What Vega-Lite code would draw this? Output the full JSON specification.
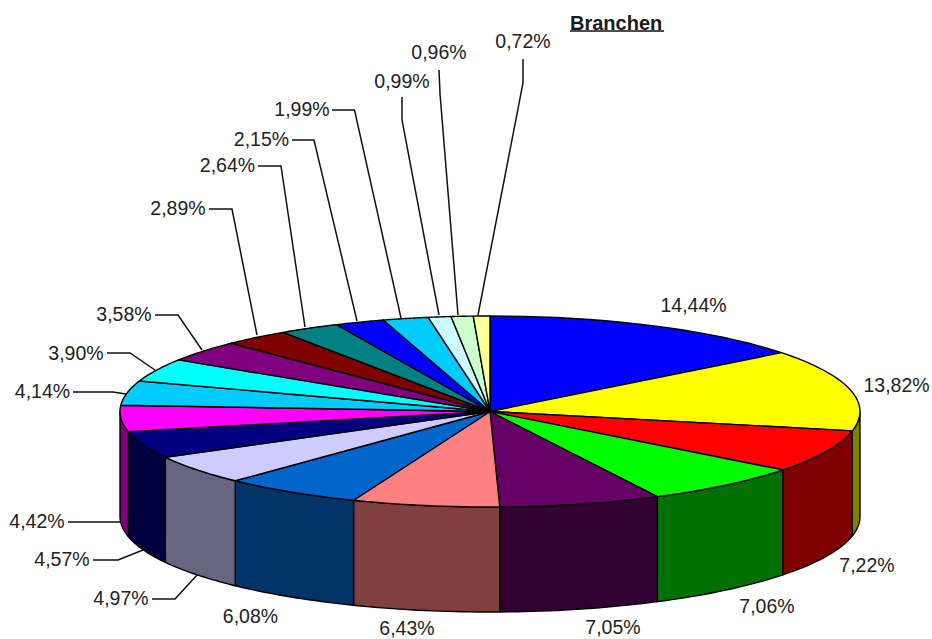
{"$schema":"https://vega.github.io/schema/vega-lite/v6.json","width":932,"height":639,"padding":0,"autosize":"none","background":"white","view":{"stroke":null},"title":{"text":"Branchen","anchor":"start","frame":"group","dx":570,"dy":50,"offset":0,"baseline":"alphabetic","font":"Liberation Sans","fontSize":20,"fontWeight":"bold","color":"#1a1a1a"},"datasets":{"slices":[{"label":"14,44%","share":14.44,"rank":1},{"label":"13,82%","share":13.82,"rank":2},{"label":"7,22%","share":7.22,"rank":3},{"label":"7,06%","share":7.06,"rank":4},{"label":"7,05%","share":7.05,"rank":5},{"label":"6,43%","share":6.43,"rank":6},{"label":"6,08%","share":6.08,"rank":7},{"label":"4,97%","share":4.97,"rank":8},{"label":"4,57%","share":4.57,"rank":9},{"label":"4,42%","share":4.42,"rank":10},{"label":"4,14%","share":4.14,"rank":11},{"label":"3,90%","share":3.9,"rank":12},{"label":"3,58%","share":3.58,"rank":13},{"label":"2,89%","share":2.89,"rank":14},{"label":"2,64%","share":2.64,"rank":15},{"label":"2,15%","share":2.15,"rank":16},{"label":"1,99%","share":1.99,"rank":17},{"label":"0,99%","share":0.99,"rank":18},{"label":"0,96%","share":0.96,"rank":19},{"label":"0,72%","share":0.72,"rank":20}],"labels":[{"label":"14,44%","x":203.5,"y":105.5},{"label":"13,82%","x":406.5,"y":25.5},{"label":"7,22%","x":377,"y":-154.5},{"label":"7,06%","x":277,"y":-195.5},{"label":"7,05%","x":123,"y":-216.5},{"label":"6,43%","x":-83,"y":-217},{"label":"6,08%","x":-239.5,"y":-205.5},{"label":"4,97%","x":-369,"y":-187.5},{"label":"4,57%","x":-428,"y":-148.5},{"label":"4,42%","x":-453,"y":-110.5},{"label":"4,14%","x":-447.5,"y":19.5},{"label":"3,90%","x":-414,"y":57.5},{"label":"3,58%","x":-366,"y":96.5},{"label":"2,89%","x":-312,"y":202.5},{"label":"2,64%","x":-262.5,"y":245.5},{"label":"2,15%","x":-228.5,"y":271.5},{"label":"1,99%","x":-188,"y":301.5},{"label":"0,99%","x":-88,"y":329.5},{"label":"0,96%","x":-51,"y":358.5},{"label":"0,72%","x":33,"y":369.5}],"leaders":[{"label":"0,72%","step":1,"x":33,"y":352.5},{"label":"0,72%","step":2,"x":33,"y":328.5},{"label":"0,72%","step":3,"x":-12,"y":96.5},{"label":"0,96%","step":1,"x":-51,"y":341.5},{"label":"0,96%","step":2,"x":-50,"y":318},{"label":"0,96%","step":3,"x":-32,"y":96.5},{"label":"0,99%","step":1,"x":-88,"y":314.5},{"label":"0,99%","step":2,"x":-88,"y":291.5},{"label":"0,99%","step":3,"x":-51,"y":96.5},{"label":"1,99%","step":1,"x":-158,"y":301.5},{"label":"1,99%","step":2,"x":-135.5,"y":301.5},{"label":"1,99%","step":3,"x":-89,"y":93.5},{"label":"2,15%","step":1,"x":-198,"y":271.5},{"label":"2,15%","step":2,"x":-176,"y":271.5},{"label":"2,15%","step":3,"x":-133,"y":90.5},{"label":"2,64%","step":1,"x":-232,"y":245.5},{"label":"2,64%","step":2,"x":-209,"y":245.5},{"label":"2,64%","step":3,"x":-185,"y":84.5},{"label":"2,89%","step":1,"x":-281,"y":202.5},{"label":"2,89%","step":2,"x":-258,"y":202.5},{"label":"2,89%","step":3,"x":-233,"y":76.5},{"label":"3,58%","step":1,"x":-335,"y":96.5},{"label":"3,58%","step":2,"x":-312,"y":96.5},{"label":"3,58%","step":3,"x":-288,"y":61.5},{"label":"3,90%","step":1,"x":-383,"y":58.5},{"label":"3,90%","step":2,"x":-360,"y":58.5},{"label":"3,90%","step":3,"x":-335,"y":41.5},{"label":"4,14%","step":1,"x":-417,"y":19.5},{"label":"4,14%","step":2,"x":-377,"y":19.5},{"label":"4,14%","step":3,"x":-364,"y":17.5},{"label":"4,42%","step":1,"x":-422,"y":-110.5},{"label":"4,42%","step":2,"x":-370,"y":-110.5},{"label":"4,57%","step":1,"x":-397,"y":-148.5},{"label":"4,57%","step":2,"x":-372,"y":-148.5},{"label":"4,57%","step":3,"x":-347,"y":-138.5},{"label":"4,97%","step":1,"x":-338,"y":-187.5},{"label":"4,97%","step":2,"x":-315,"y":-187.5},{"label":"4,97%","step":3,"x":-292,"y":-162.5},{"label":"Branchen","step":1,"x":80,"y":380.5},{"label":"Branchen","step":2,"x":174,"y":380.5}]},"layer":[{"data":{"name":"leaders"},"mark":{"type":"line","stroke":"#111111","strokeWidth":1.5},"encoding":{"x":{"field":"x","type":"quantitative","scale":{"domain":[-490,442]},"axis":null},"y":{"field":"y","type":"quantitative","scale":{"domain":[-227.5,411.5]},"axis":null},"detail":{"field":"label"},"order":{"field":"step"}}},{"data":{"name":"slices"},"transform":[{"window":[{"op":"sum","field":"share","as":"end"}],"sort":[{"field":"rank"}]},{"calculate":"datum.end-datum.share","as":"start"},{"calculate":"max(datum.start,24.99)","as":"a1"},{"calculate":"min(datum.end,75.0)","as":"a2"},{"filter":"datum.a2>datum.a1"},{"calculate":"sequence(0,2.1001,0.05)","as":"t"},{"flatten":["t"]},{"calculate":"datum.t<=1.0001?datum.a1+datum.t*(datum.a2-datum.a1):(datum.t<=2.0501?datum.a1+(2.05-datum.t)*(datum.a2-datum.a1):datum.a1)","as":"pct"},{"calculate":"370*sin(2*PI*datum.pct/100.02)","as":"px"},{"calculate":"95.5*cos(2*PI*datum.pct/100.02)-((datum.t>1.0001&&datum.t<=2.0501)?105:0)","as":"py"}],"mark":{"type":"line","stroke":"#000000","strokeWidth":1.4,"strokeJoin":"round"},"encoding":{"x":{"field":"px","type":"quantitative","scale":{"domain":[-490,442]},"axis":null},"y":{"field":"py","type":"quantitative","scale":{"domain":[-227.5,411.5]},"axis":null},"order":{"field":"t"},"fill":{"field":"label","type":"nominal","legend":null,"scale":{"domain":["13,82%","7,22%","7,06%","7,05%","6,43%","6,08%","4,97%","4,57%","4,42%"],"range":["#808000","#800000","#007000","#330033","#804040","#003366","#666680","#000040","#800080"]}}}},{"data":{"name":"slices"},"transform":[{"window":[{"op":"sum","field":"share","as":"end"}],"sort":[{"field":"rank"}]},{"calculate":"datum.end-datum.share","as":"start"},{"calculate":"sequence(-0.05,1.1001,0.05)","as":"t"},{"flatten":["t"]},{"calculate":"datum.start+clamp(datum.t,0,1)*datum.share","as":"pct"},{"calculate":"(datum.t<-0.001||datum.t>1.001)?0:1","as":"r"},{"calculate":"datum.r*370*sin(2*PI*datum.pct/100.02)","as":"px"},{"calculate":"datum.r*95.5*cos(2*PI*datum.pct/100.02)","as":"py"}],"mark":{"type":"line","stroke":"#000000","strokeWidth":1.4,"strokeJoin":"round"},"encoding":{"x":{"field":"px","type":"quantitative","scale":{"domain":[-490,442]},"axis":null},"y":{"field":"py","type":"quantitative","scale":{"domain":[-227.5,411.5]},"axis":null},"order":{"field":"t"},"fill":{"field":"label","type":"nominal","legend":null,"scale":{"domain":["14,44%","13,82%","7,22%","7,06%","7,05%","6,43%","6,08%","4,97%","4,57%","4,42%","4,14%","3,90%","3,58%","2,89%","2,64%","2,15%","1,99%","0,99%","0,96%","0,72%"],"range":["#0000ff","#ffff00","#ff0000","#00ff00","#660066","#ff8080","#0066cc","#ccccff","#000080","#ff00ff","#00ccff","#00ffff","#800080","#800000","#008080","#0000ff","#00ccff","#ccffff","#ccffcc","#ffff99"]}}}},{"data":{"name":"labels"},"mark":{"type":"text","font":"Liberation Sans","fontSize":19.5,"align":"center","baseline":"middle","color":"#222222"},"encoding":{"x":{"field":"x","type":"quantitative","scale":{"domain":[-490,442]},"axis":null},"y":{"field":"y","type":"quantitative","scale":{"domain":[-227.5,411.5]},"axis":null},"text":{"field":"label"}}}],"resolve":{"scale":{"fill":"independent"}}}
